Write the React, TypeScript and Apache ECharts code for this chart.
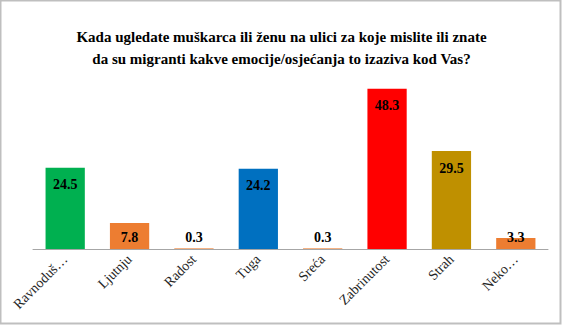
import React, { useEffect, useRef } from "react";
import * as echarts from "echarts";

const categories = ["Ravnoduš…", "Ljutnju", "Radost", "Tuga", "Sreća", "Zabrinutost", "Strah", "Neko…"];
const values = [24.5, 7.8, 0.3, 24.2, 0.3, 48.3, 29.5, 3.3];
const colors = ["#00B050", "#ED7D31", "#F4B183", "#0070C0", "#F4B183", "#FF0000", "#BF9000", "#ED7D31"];
const titleText = "Kada ugledate muškarca ili ženu na ulici za koje mislite ili znate\nda su migranti kakve emocije/osjećanja to izaziva kod Vas?";

export default function App() {
  const ref = useRef<HTMLDivElement>(null);
  useEffect(() => {
    if (!ref.current) return;
    const chart = echarts.init(ref.current, null, { renderer: "svg" });
    const font = "Liberation Serif";
    chart.setOption({
      animation: false,
      backgroundColor: "#ffffff",
      title: {
        text: titleText,
        left: "center",
        top: 21,
        textStyle: { fontFamily: font, fontWeight: "bold", fontSize: 15, lineHeight: 22, color: "#000", align: "center" },
      },
      graphic: [
        {
          type: "rect",
          shape: { x: 0.5, y: 0.5, width: 560, height: 323 },
          style: { fill: "none", stroke: "#BFBFBF", lineWidth: 2 },
          silent: true,
        },
      ],
      grid: { left: 33, right: 15, top: 83, bottom: 80, containLabel: false },
      xAxis: {
        type: "category",
        data: categories,
        axisLine: { show: true, lineStyle: { color: "#A6A6A6", width: 1 } },
        axisTick: { show: false },
        axisLabel: {
          rotate: 45,
          interval: 0,
          margin: 8,
          fontFamily: font,
          fontSize: 14,
          color: "#262626",
        },
      },
      yAxis: {
        type: "value",
        min: 0,
        max: 50,
        show: false,
        splitLine: { show: false },
      },
      series: [
        {
          type: "bar",
          barCategoryGap: "39%",
          data: values.map((v, i) => ({
            value: v,
            itemStyle: { color: colors[i] },
            label: v > 10
              ? { position: "insideTop", distance: 10 }
              : { position: "insideBottom", distance: 5 },
          })),
          label: {
            show: true,
            fontFamily: font,
            fontWeight: "bold",
            fontSize: 14,
            color: "#000",
            formatter: (p: any) => p.value.toFixed(1),
          },
        },
      ],
    });
    return () => chart.dispose();
  }, []);
  return <div ref={ref} style={{ position: "absolute", left: 0, top: 0, width: 563, height: 329 }} />;
}
